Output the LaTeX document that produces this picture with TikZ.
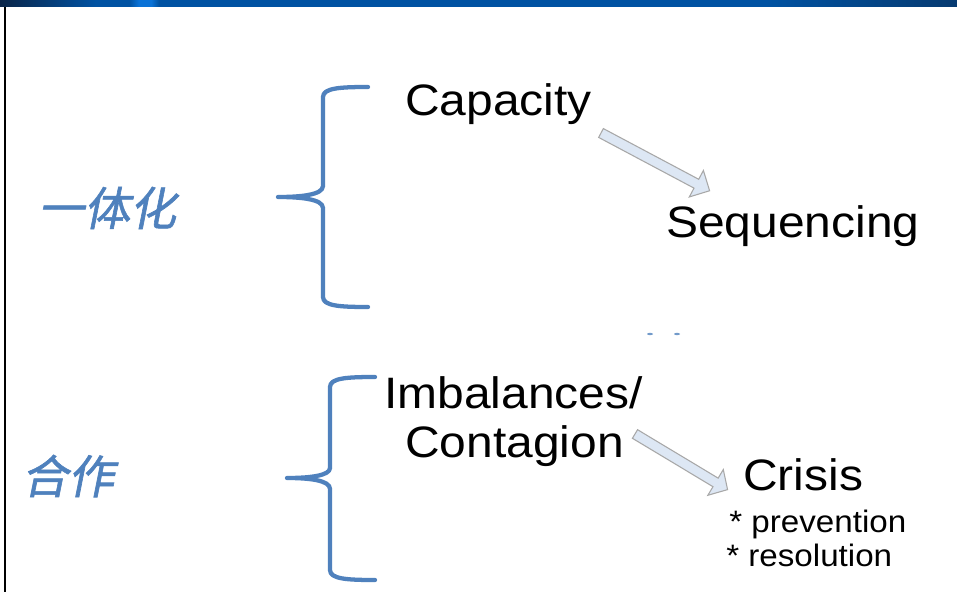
\documentclass[tikz,border=0pt]{standalone}
\usepackage{fontspec}
\setmainfont{Liberation Sans}
\newfontfamily\cjk[FakeSlant=0.2,FakeBold=1.3]{Noto Sans CJK SC}
\definecolor{braceblue}{HTML}{4F81BD}
\definecolor{arrfill}{HTML}{DDE7F4}
\definecolor{arrline}{HTML}{A8A8A8}
\definecolor{barA}{HTML}{0A2548}
\definecolor{barB}{HTML}{0052A2}
\definecolor{barC}{HTML}{0A72D6}
\definecolor{barD}{HTML}{063A70}
\pgfdeclarehorizontalshading{topbar}{100bp}{color(0bp)=(barA); color(25bp)=(barA); color(30bp)=(barB); color(31.75bp)=(barB); color(32.25bp)=(barC); color(32.9bp)=(barC); color(33.3bp)=(barB); color(65bp)=(barB); color(75bp)=(barD); color(100bp)=(barD)}
\tikzset{
  bigtxt/.style={anchor=base west, inner sep=0pt, xscale=1.09, font=\fontsize{33}{38}\selectfont},
  smalltxt/.style={anchor=base west, inner sep=0pt, xscale=1.07, font=\fontsize{23.25}{27}\selectfont},
  cjktxt/.style={inner sep=0pt, text=braceblue, font=\cjk\fontsize{34.5}{38}\selectfont},
  bracepath/.style={draw=braceblue, line width=3.2pt, line cap=round, line join=round},
  blockarrow/.style={draw=arrline, fill=arrfill, line width=0.8pt, line join=miter}
}
\begin{document}
\begin{tikzpicture}[x=0.75pt,y=-0.75pt]
\useasboundingbox (0,0) rectangle (957,592);
\fill[white] (0,0) rectangle (957,592);
% top bar
\shade[shading=topbar] (0,0) rectangle (957,7);
% left border
\draw[black, line width=1.5pt] (4.5,7) -- (4.5,592);

% chinese labels
\node[cjktxt] (yiti) at (107,208) {一体化};
\node[cjktxt] (hezuo) at (68,476) {合作};

% braces
\draw[bracepath] (368,87) .. controls (340,87) and (323,88) .. (323,97) -- (323,186)
  .. controls (323,195) and (300,197) .. (278,197)
  .. controls (300,197) and (323,199) .. (323,208) -- (323,297)
  .. controls (323,306) and (340,307) .. (368,307);
\draw[bracepath] (375,377) .. controls (347,377) and (330,378) .. (330,387) -- (330,468)
  .. controls (330,476) and (308,478) .. (287,478)
  .. controls (308,478) and (330,480) .. (330,489) -- (330,570)
  .. controls (330,579) and (347,580) .. (375,580);

% texts
\node[bigtxt] (cap) at (405,115) {Capacity};
\node[bigtxt] (seq) at (666,237) {Sequencing};
\node[bigtxt] (imb) at (384,408) {Imbalances/};
\node[bigtxt] (con) at (405,457) {Contagion};
\node[bigtxt] (cri) at (743,490) {Crisis};
\node[smalltxt] (prev) at (729,532) {* prevention};
\node[smalltxt] (reso) at (726,566) {* resolution};

% block arrows
\begin{scope}[shift={(601,133)}, rotate=-28]
  \draw[blockarrow] (0,-5) -- (108,-5) -- (108,-15) -- (123,0) -- (108,15) -- (108,5) -- (0,5) -- cycle;
\end{scope}
\begin{scope}[shift={(635,434)}, rotate=-31]
  \draw[blockarrow] (0,-5) -- (94,-5) -- (94,-15) -- (108,0) -- (94,15) -- (94,5) -- (0,5) -- cycle;
\end{scope}

% small blue marks
\fill[braceblue!80!white] (650,334) ellipse (3 and 1.2);
\fill[braceblue!80!white] (677,334) ellipse (3 and 1.2);
\end{tikzpicture}
\end{document}
